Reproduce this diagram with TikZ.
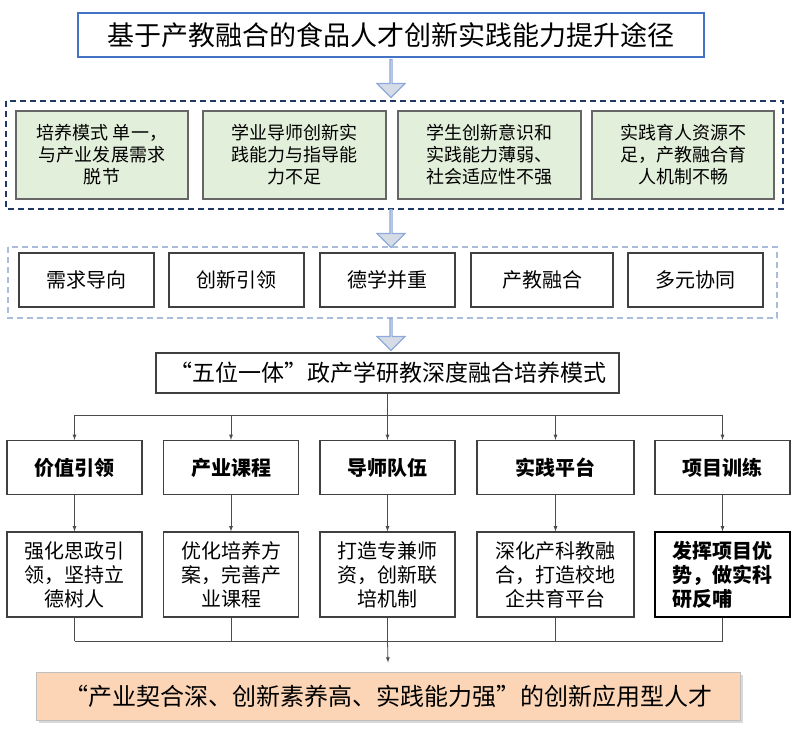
\documentclass[tikz,border=0pt]{standalone}
\usepackage{fontspec}
\setmainfont{Noto Sans CJK SC}
\usetikzlibrary{positioning,shapes.arrows,shadows,calc}
\definecolor{titleblue}{HTML}{4472C4}
\definecolor{navy}{HTML}{203864}
\definecolor{lightdash}{HTML}{A9BCDC}
\definecolor{greenfill}{HTML}{E2EFDA}
\definecolor{arrowfill}{HTML}{D6DCE5}
\definecolor{arrowline}{HTML}{8EA9DB}
\definecolor{orangefill}{HTML}{FBD5B5}
\tikzset{
  box/.style={draw=black!75, line width=1.2pt, align=center, inner sep=2pt},
  greenbox/.style={box, fill=greenfill, draw=black!60, font=\fontsize{18}{22}\selectfont, minimum height=88pt},
  whitebox/.style={box, font=\fontsize{20}{24}\selectfont, minimum width=135pt, minimum height=54pt},
  fatarrow/.style={single arrow, draw=arrowline, fill=arrowfill, line width=1.2pt, shape border rotate=270,
    single arrow head extend=7pt, single arrow tip angle=90, inner sep=0pt, minimum width=28pt},
  boxdash/.style={dash pattern=on 6pt off 4pt, line width=1.6pt},
  link/.style={draw=black!70, line width=0.8pt},
  linkarrow/.style={link, -latex},
}
\begin{document}
\begin{tikzpicture}[x=1pt, y=-1pt]
 \useasboundingbox (0,0) rectangle (800,751);
 %title
 \node[draw=titleblue, line width=1.5pt, minimum width=626pt, minimum height=44pt, font=\fontsize{27}{31}\selectfont] (title) at (391,35) {基于产教融合的食品人才创新实践能力提升途径};
 \node[fatarrow, minimum height=38pt] (a1) at (391,78) {};
 
 %problems
 \draw[navy, boxdash] (6,101) rectangle (783,209);
 \node[greenbox, minimum width=172pt] (p1) at (102,155) {培养模式 单一，\\与产业发展需求\\脱节};
 \node[greenbox, minimum width=183pt] (p2) at (294.5,155) {学业导师创新实\\践能力与指导能\\力不足};
 \node[greenbox, minimum width=183pt] (p3) at (489.5,155) {学生创新意识和\\实践能力薄弱、\\社会适应性不强};
 \node[greenbox, minimum width=182pt] (p4) at (683,155) {实践育人资源不\\足，产教融合育\\人机制不畅};
 \node[fatarrow, minimum height=38pt] (a2) at (391,228) {};
 
 %principles
 \draw[lightdash, boxdash] (8,247) rectangle (777,318);
 \node[whitebox] (q1) at (86.5,280) {需求导向};
 \node[whitebox] (q2) at (236.5,280) {创新引领};
 \node[whitebox] (q3) at (387.5,280) {德学并重};
 \node[whitebox, minimum width=142pt] (q4) at (542,280) {产教融合};
 \node[whitebox] (q5) at (695.5,280) {多元协同};
 \node[fatarrow, minimum height=32pt] (a3) at (391,334) {};
 
 %model
 \node[box, minimum width=463pt, minimum height=40pt, font=\fontsize{23}{27}\selectfont] (model) at (387.5,373) {“五位一体”政产学研教深度融合培养模式};
 
 %level 1
 \node[whitebox, font=\bfseries\fontsize{20}{24}\selectfont] (m1) at (74.5,467.5) {价值引领};
 \node[whitebox, font=\bfseries\fontsize{20}{24}\selectfont] (m2) at (231,467.5) {产业课程};
 \node[whitebox, font=\bfseries\fontsize{20}{24}\selectfont] (m3) at (387.5,467.5) {导师队伍};
 \node[whitebox, font=\bfseries\fontsize{20}{24}\selectfont, minimum width=157pt] (m4) at (555.5,467.5) {实践平台};
 \node[whitebox, font=\bfseries\fontsize{20}{24}\selectfont] (m5) at (722.5,467.5) {项目训练};
 
 %level 2
 \node[whitebox, minimum height=85pt] (d1) at (74.5,574.5) {强化思政引\\领，坚持立\\德树人};
 \node[whitebox, minimum height=85pt] (d2) at (231,574.5) {优化培养方\\案，完善产\\业课程};
 \node[whitebox, minimum height=85pt] (d3) at (387.5,574.5) {打造专兼师\\资，创新联\\培机制};
 \node[whitebox, minimum height=85pt, minimum width=157pt] (d4) at (555.5,574.5) {深化产科教融\\合，打造校地\\企共育平台};
 \node[whitebox, minimum height=85pt, draw=black, align=left, font=\bfseries\fontsize{20}{24}\selectfont] (d5) at (722.5,574.5) {发挥项目优\\势，做实科\\研反哺};
 
 %result
 \node[box, draw=black!25, line width=1pt, fill=orangefill, drop shadow={opacity=0.3}, minimum width=704pt, minimum height=48pt, font=\fontsize{24}{28}\selectfont] (goal) at (388,696) {“产业契合深、创新素养高、实践能力强”的创新应用型人才};
 
 %lines
 \coordinate (bus1) at (387.5,415);
 \coordinate (bus2) at (387.5,641);
 \draw[link] (model.south) -- (bus1);
 \draw[link] (m1.north |- bus1) -- (m5.north |- bus1);
 \foreach \i in {1,...,5} {
   \draw[linkarrow] (m\i.north |- bus1) -- (m\i.north);
   \draw[linkarrow] (m\i.south) -- (d\i.north);
   \draw[link] (d\i.south) -- (d\i.south |- bus2);
 }
 \draw[link] (d1.south |- bus2) -- (d5.south |- bus2);
 \draw[linkarrow] (bus2) -- ($(goal.north)+(0,-9)$);
\end{tikzpicture}
\end{document}
